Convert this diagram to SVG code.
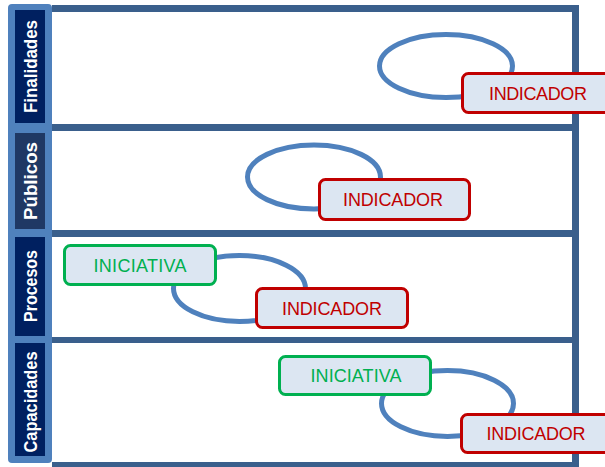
<svg xmlns="http://www.w3.org/2000/svg" width="605" height="467" viewBox="0 0 605 467">
<style>
.bar{fill:#3A5F8C}
.lane{fill:#002060}
.lbl{font-family:"Liberation Sans",Arial,sans-serif;font-weight:bold;font-size:18px;fill:#FFFFFF;text-anchor:middle}
.loop{fill:none;stroke:#4F81BD;stroke-width:5}
.box{fill:#DCE6F2;stroke-width:3}
.ind{stroke:#C00000}
.ini{stroke:#00B050}
.t{font-family:"Liberation Sans",Arial,sans-serif;font-size:18px;text-anchor:middle}
.tind{fill:#C00000}
.tini{fill:#00B050}
</style>
<rect width="605" height="467" fill="#FFFFFF"/>
<g id="frame">
<rect x="8" y="4" width="44" height="459" rx="4" fill="#4F81BD"/>
<rect class="bar" x="52" y="5" width="527" height="7"/>
<rect class="bar" x="52" y="124" width="527" height="7"/>
<rect class="bar" x="52" y="230" width="527" height="7"/>
<rect class="bar" x="52" y="337" width="527" height="6"/>
<rect class="bar" x="52" y="462" width="527" height="7"/>
<rect class="bar" x="572" y="5" width="7" height="462"/>
</g>
<g id="lane-finalidades">
<rect class="lane" x="15" y="10" width="30" height="113"/>
<text class="lbl" transform="translate(36.5 66.5) rotate(-90)" textLength="93" lengthAdjust="spacingAndGlyphs">Finalidades</text>
</g>
<g id="lane-publicos">
<rect x="15" y="133" width="30" height="96" fill="#1F3864"/>
<text class="lbl" transform="translate(36.5 181) rotate(-90)" textLength="78" lengthAdjust="spacingAndGlyphs">Públicos</text>
</g>
<g id="lane-procesos">
<rect class="lane" x="15" y="237" width="30" height="99"/>
<text class="lbl" transform="translate(36.5 286) rotate(-90)" textLength="72" lengthAdjust="spacingAndGlyphs">Procesos</text>
</g>
<g id="lane-capacidades">
<rect class="lane" x="15" y="343" width="30" height="113"/>
<text class="lbl" transform="translate(36.5 402) rotate(-90)" textLength="101" lengthAdjust="spacingAndGlyphs">Capacidades</text>
</g>
<g id="connectors">
<ellipse class="loop" cx="446" cy="66" rx="66.5" ry="31.5"/>
<ellipse class="loop" cx="314" cy="177" rx="66.5" ry="32"/>
<ellipse class="loop" cx="239.5" cy="288.5" rx="66" ry="33"/>
<ellipse class="loop" cx="447.5" cy="403.5" rx="66" ry="33"/>
</g>
<g id="ind-finalidades">
<rect class="box ind" x="462.5" y="73.5" width="151" height="39" rx="6"/>
<text class="t tind" x="538" y="100" textLength="98" lengthAdjust="spacing">INDICADOR</text>
</g>
<g id="ind-publicos">
<rect class="box ind" x="319.5" y="179.5" width="150" height="40" rx="6"/>
<text class="t tind" x="393" y="206" textLength="100" lengthAdjust="spacing">INDICADOR</text>
</g>
<g id="ini-procesos">
<rect class="box ini" x="64.5" y="245.5" width="151" height="39" rx="6"/>
<text class="t tini" x="140" y="271.5" textLength="93" lengthAdjust="spacing">INICIATIVA</text>
</g>
<g id="ind-procesos">
<rect class="box ind" x="256.5" y="288.5" width="151" height="39" rx="6"/>
<text class="t tind" x="332" y="314.5" textLength="100" lengthAdjust="spacing">INDICADOR</text>
</g>
<g id="ini-capacidades">
<rect class="box ini" x="279.5" y="356.5" width="151" height="38" rx="6"/>
<text class="t tini" x="356" y="382" textLength="91" lengthAdjust="spacing">INICIATIVA</text>
</g>
<g id="ind-capacidades">
<rect class="box ind" x="461.5" y="414.5" width="151" height="38" rx="6"/>
<text class="t tind" x="536" y="440" textLength="99" lengthAdjust="spacing">INDICADOR</text>
</g>
</svg>
